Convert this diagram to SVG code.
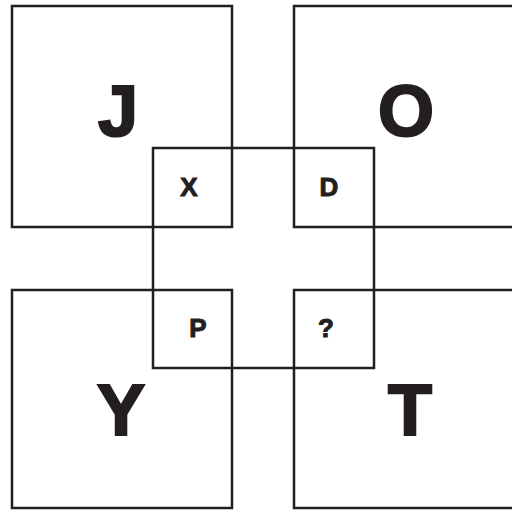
<svg xmlns="http://www.w3.org/2000/svg" width="512" height="510" viewBox="0 0 512 510">
<style>
rect{fill:none;stroke:#231f20;stroke-width:2.5}
.big{font-family:"Liberation Sans",Arial,sans-serif;font-weight:bold;font-size:72px;fill:#231f20;stroke:#231f20;stroke-width:2.2;text-anchor:middle}
.sm{font-family:"Liberation Sans",Arial,sans-serif;font-weight:bold;font-size:26px;fill:#231f20;stroke:#231f20;stroke-width:1;text-anchor:middle}
</style>
<rect width="512" height="510" fill="#fff" style="stroke:none;fill:#fff"/>
<g id="J"><rect x="12" y="6" width="220" height="221"/><text class="big" x="118" y="136">J</text></g>
<g id="O"><rect x="294" y="6" width="230" height="221"/><text class="big" x="406" y="136">O</text></g>
<g id="Y"><rect x="12" y="290" width="220" height="218"/><text class="big" x="121" y="435">Y</text></g>
<g id="T"><rect x="294" y="290" width="230" height="218"/><text class="big" x="410" y="435">T</text></g>
<g id="center"><rect x="153" y="148" width="221" height="220"/></g>
<g id="X"><text class="sm" x="189" y="196">X</text></g>
<g id="D"><text class="sm" x="329" y="196">D</text></g>
<g id="P"><text class="sm" x="198" y="337">P</text></g>
<g id="Q"><text class="sm" x="326" y="337">?</text></g>
</svg>
